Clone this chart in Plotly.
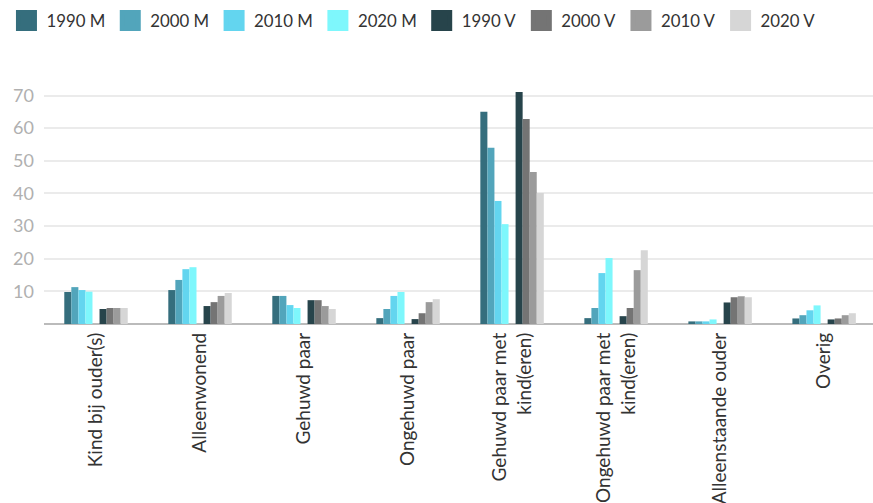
import plotly.graph_objects as go

categories = ["Kind bij ouder(s)", "Alleenwonend", "Gehuwd paar", "Ongehuwd paar",
              "Gehuwd paar met<br>kind(eren)", "Ongehuwd paar met<br>kind(eren)",
              "Alleenstaande ouder", "Overig"]

m1990 = [9.8, 10.4, 8.6, 1.8, 65.0, 1.8, 0.8, 1.7]
m2000 = [11.3, 13.5, 8.6, 4.6, 54.0, 4.9, 0.8, 2.7]
m2010 = [10.4, 16.8, 5.8, 8.6, 37.7, 15.6, 0.8, 4.2]
m2020 = [9.9, 17.4, 4.9, 9.8, 30.6, 20.2, 1.4, 5.7]
v1990 = [4.6, 5.5, 7.3, 1.5, 71.1, 2.4, 6.6, 1.4]
v2000 = [4.9, 6.7, 7.3, 3.3, 62.8, 4.9, 8.2, 1.7]
v2010 = [4.9, 8.6, 5.5, 6.7, 46.6, 16.5, 8.5, 2.7]
v2020 = [4.9, 9.5, 4.6, 7.6, 40.1, 22.6, 8.2, 3.3]

series_names = ["1990 M", "2000 M", "2010 M", "2020 M", "1990 V", "2000 V", "2010 V", "2020 V"]
series_values = [m1990, m2000, m2010, m2020, v1990, v2000, v2010, v2020]
colors = ["#356e7d", "#52a5bb", "#63d5ef", "#7ef7fc", "#27444b", "#747474", "#9b9b9b", "#d6d6d6"]

fig = go.Figure()
for i, (name, vals, col) in enumerate(zip(series_names, series_values, colors)):
    if i == 4:
        # empty spacer slot between M and V groups
        fig.add_trace(go.Bar(x=categories, y=[None] * len(categories), showlegend=False,
                             hoverinfo="skip", marker_color="rgba(0,0,0,0)"))
    fig.add_trace(go.Bar(x=categories, y=vals, name=name, marker_color=col,
                         marker_line_width=0, legendgroup=name, showlegend=False))

# legend entries (larger square swatches)
for name, col in zip(series_names, colors):
    fig.add_trace(go.Scatter(x=[None], y=[None], mode="markers", name=name,
                             legendgroup=name, hoverinfo="skip",
                             marker=dict(symbol="square", size=16, color=col,
                                         line=dict(color=col, width=5))))

fig.update_layout(
    width=873, height=503,
    barmode="group", bargap=0.39, bargroupgap=0,
    plot_bgcolor="white", paper_bgcolor="white",
    margin=dict(l=44, r=0, t=89, b=179, autoexpand=False),
    font=dict(family="Lato, 'Open Sans', sans-serif", size=16, color="#333333"),
    legend=dict(orientation="h", xref="container", yref="container",
                x=0.0074, y=0.959, xanchor="left", yanchor="middle",
                font=dict(size=16.8, color="#333333"), traceorder="normal",
                itemwidth=30, itemsizing="trace"),
    xaxis=dict(range=[-0.5, 7.47], tickangle=-90, showgrid=False, automargin=False,
               showline=False, ticks="", ticklabelstandoff=4,
               tickfont=dict(size=19, color="#333333")),
    yaxis=dict(range=[0, 72], tickvals=[10, 20, 30, 40, 50, 60, 70], automargin=False,
               gridcolor="#ebebeb", gridwidth=2,
               zeroline=True, zerolinecolor="#bbbbbb", zerolinewidth=2,
               tickfont=dict(size=18, color="#b0b0b0"), ticklabelstandoff=9),
)

fig.write_html("out.html", config={"displayModeBar": False},
               post_script="document.body.style.margin='0';document.body.style.overflow='hidden';")
